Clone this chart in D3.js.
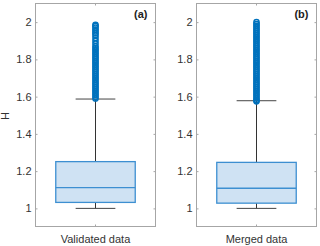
<!DOCTYPE html>
<html>
<head>
<meta charset="utf-8">
<script src="https://cdn.jsdelivr.net/npm/d3@7"></script>
<style>
  body { margin: 0; background: #fff; }
  svg { display: block; font-family: "Liberation Sans", Arial, sans-serif; }
</style>
</head>
<body>
<svg id="chart" width="320" height="246"></svg>
<script>
// Box statistics
const panels = ['(a)', '(b)'];
const categories = ['Validated data', 'Merged data'];
const q1 = [1.032, 1.028];
const medians = [1.111, 1.108];
const q3 = [1.251, 1.247];
const whiskerLow = [1.0, 1.0];
const whiskerHigh = [1.587, 1.578];
const yTicks = [1, 1.2, 1.4, 1.6, 1.8, 2];

// Outliers above the upper whisker
const outliersA = [1.59, 1.60, 1.61, 1.62, 1.63, 1.64, 1.65, 1.66, 1.67, 1.68,
  1.69, 1.70, 1.71, 1.72, 1.73, 1.74, 1.75, 1.76, 1.77, 1.78, 1.79, 1.80,
  1.81, 1.82, 1.83, 1.84, 1.85, 1.86, 1.87, 1.885, 1.90, 1.915, 1.93, 1.94,
  1.95, 1.96, 1.97, 1.98, 1.985];
const outliersB = [1.575, 1.58, 1.59, 1.60, 1.61, 1.62, 1.63, 1.64, 1.65, 1.66,
  1.67, 1.68, 1.69, 1.70, 1.71, 1.72, 1.73, 1.74, 1.75, 1.76, 1.77, 1.78,
  1.79, 1.80, 1.81, 1.82, 1.83, 1.84, 1.85, 1.86, 1.87, 1.88, 1.89, 1.90,
  1.91, 1.92, 1.93, 1.94, 1.95, 1.96, 1.97, 1.98, 1.99, 2.0];
const outliers = [outliersA, outliersB];

const svg = d3.select('#chart');
const axTop = 3.5;
const axBottom = 226.5;
const axLeft = [35.5, 196.5];
const axWidth = 120;

const y = d3.scaleLinear().domain([0.9, 2.1]).range([axBottom + 0.5, axTop]);

const blue = '#0072BD';
const boxEdge = '#3d8fd1';
const boxFill = '#cfe2f3';
const labelColor = '#333';
const spine = '#a6a6a6';

// y label
svg.append('text')
  .attr('transform', 'translate(9,116) rotate(-90)')
  .attr('text-anchor', 'middle')
  .attr('font-size', 11)
  .attr('fill', labelColor)
  .text('H');

categories.forEach((cat, i) => {
  const x = d3.scaleBand().domain([cat]).range([axLeft[i], axLeft[i] + axWidth]).paddingInner(0).paddingOuter(0.255);
  const g = svg.append('g');
  const cx = x(cat) + x.bandwidth() / 2;
  const bw = x.bandwidth();

  // axes box
  g.append('rect')
    .attr('x', axLeft[i]).attr('y', axTop)
    .attr('width', axWidth).attr('height', axBottom - axTop)
    .attr('fill', 'none').attr('stroke', spine).attr('stroke-width', 1);

  // left axis labels + ticks
  const left = g.append('g').attr('transform', `translate(${axLeft[i]},0)`)
    .call(d3.axisLeft(y).tickValues(yTicks).tickSize(-2).tickPadding(4).tickFormat(d3.format('~g')));
  left.select('.domain').remove();
  left.selectAll('line').attr('stroke', spine);
  left.selectAll('text').attr('font-size', 11).attr('fill', labelColor).attr('font-family', null);

  const right = g.append('g').attr('transform', `translate(${axLeft[i] + axWidth},0)`)
    .call(d3.axisRight(y).tickValues(yTicks).tickSize(-2).tickFormat(''));
  right.select('.domain').remove();
  right.selectAll('line').attr('stroke', spine);

  // x axis
  const bx = g.append('g').attr('transform', `translate(0,${axBottom})`)
    .call(d3.axisBottom(x).tickSize(-2).tickPadding(9));
  bx.select('.domain').remove();
  bx.selectAll('line').attr('stroke', spine);
  bx.selectAll('text').attr('font-size', 11).attr('fill', labelColor).attr('font-family', null);

  const tx = g.append('g').attr('transform', `translate(0,${axTop})`)
    .call(d3.axisTop(x).tickSize(-2).tickFormat(''));
  tx.select('.domain').remove();
  tx.selectAll('line').attr('stroke', spine);

  // whiskers
  g.append('line')
    .attr('x1', cx).attr('x2', cx)
    .attr('y1', y(whiskerHigh[i])).attr('y2', y(q3[i]))
    .attr('stroke', '#333').attr('stroke-width', 1);
  g.append('line')
    .attr('x1', cx).attr('x2', cx)
    .attr('y1', y(q1[i])).attr('y2', y(whiskerLow[i]))
    .attr('stroke', '#333').attr('stroke-width', 1);
  [whiskerHigh[i], whiskerLow[i]].forEach((v) => {
    g.append('line')
      .attr('x1', cx - bw / 4).attr('x2', cx + bw / 4)
      .attr('y1', y(v)).attr('y2', y(v))
      .attr('stroke', '#444').attr('stroke-width', 1);
  });

  // box
  g.append('rect')
    .attr('x', x(cat)).attr('y', y(q3[i]))
    .attr('width', bw).attr('height', y(q1[i]) - y(q3[i]))
    .attr('fill', boxFill).attr('stroke', boxEdge).attr('stroke-width', 1.3);
  g.append('line')
    .attr('x1', x(cat)).attr('x2', x(cat) + bw)
    .attr('y1', y(medians[i])).attr('y2', y(medians[i]))
    .attr('stroke', boxEdge).attr('stroke-width', 1.3);

  // outliers
  g.selectAll('circle.out')
    .data(outliers[i])
    .enter()
    .append('circle')
    .attr('class', 'out')
    .attr('cx', cx)
    .attr('cy', (d) => y(d))
    .attr('r', 2.6)
    .attr('fill', 'none')
    .attr('stroke', blue)
    .attr('stroke-width', 1.5);

  // panel label
  g.append('text')
    .attr('x', axLeft[i] + axWidth - 8)
    .attr('y', 18)
    .attr('text-anchor', 'end')
    .attr('font-size', 11)
    .attr('font-weight', 'bold')
    .attr('fill', '#222')
    .text(panels[i]);
});
</script>
</body>
</html>
